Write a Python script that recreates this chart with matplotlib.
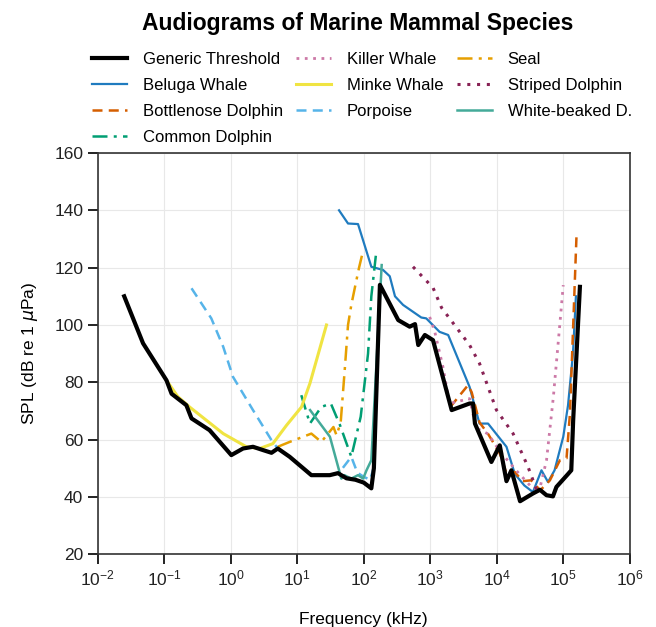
import numpy as np
import matplotlib.pyplot as plt
from matplotlib.ticker import LogLocator, NullLocator

plt.rcParams['font.family'] = ['Liberation Sans', 'DejaVu Sans']

# audiogram values (frequency, threshold in dB)
generic_f = [0.025, 0.048, 0.108, 0.129, 0.215, 0.257, 0.48, 1.02, 1.53, 2.16, 3.1, 4.1, 5.1, 7.7,
             16.3, 30.8, 41, 55, 75, 100, 130, 142, 175, 330, 490, 590, 660, 830, 1100, 2100,
             3900, 4400, 4700, 8300, 11100, 14000, 16600, 22400, 35000, 44600, 56000, 70000,
             79000, 118000, 132000, 141000, 178000]
generic_db = [110, 93.6, 80.7, 76, 72, 67.4, 63.3, 54.6, 56.9, 57.5, 56.3, 55.4, 56.9, 54,
              47.6, 47.6, 48.3, 46.5, 46, 45, 43, 50, 114, 101.7, 99.4, 100.3, 93, 96.5, 94.7, 70.3,
              72.6, 72.6, 65.6, 52.2, 58, 45.5, 49.3, 38.5, 41.2, 42.5, 40.6, 40.2,
              43.5, 48, 49.3, 66.8, 113.3]

beluga_f = [42.5, 58, 82, 130, 195, 246, 295, 390, 733, 870, 1380, 1860, 3900, 5500, 7400,
            14000, 18700, 26000, 35000, 47000, 59000, 74000, 100000, 118000, 140000, 155000]
beluga_db = [140, 135.4, 135.2, 120.3, 119.2, 117, 110, 107, 102.6, 102.3, 97.6, 96.5, 78.4, 65.6, 65.6,
             57.5, 48, 44, 41.7, 49.3, 45.2, 49.3, 61, 72, 90, 110]

bottlenose_f = [2000, 3700, 4200, 5500, 7400, 11100, 14000, 18600, 24500, 33000, 45000, 63000,
                89000, 112000, 126000, 158000]
bottlenose_db = [71.4, 79, 76.5, 66, 62, 55.2, 48.2, 48.7, 45.5, 45.8, 42.3, 45.8,
                 52.8, 53.5, 69, 130.8]

common_f = [11.5, 15.5, 23, 32, 44, 65, 90, 116, 130, 155]
common_db = [75.5, 65.6, 71.4, 72.6, 65, 54, 68, 90, 110, 126]

killer_f = [980, 1170, 1550, 1950, 3900, 4900, 7400, 11100, 19500, 35000, 45000, 56000,
            71000, 89000, 100000]
killer_db = [102.8, 97.6, 85.4, 72.6, 74.3, 64, 62, 56, 49.3, 42.9, 43.5, 52.8,
             74.9, 100.5, 113.9]

minke_f = [0.108, 0.16, 0.24, 0.77, 1.72, 2.73, 4.3, 6.9, 11.6, 15.5, 27.5]
minke_db = [80.7, 75, 71.4, 62.1, 57.5, 56.9, 58.6, 65, 71.4, 79.6, 100]

porpoise_f = [0.257, 0.51, 0.77, 1.08, 2.16, 4.1, 5.1, 7.7, 16.3, 30.8, 43.5, 65, 80, 100, 125, 140]
porpoise_db = [112.8, 102.3, 92.4, 81.9, 70.3, 59.8, 56.9, 54, 47.6, 47.6, 48.7, 54, 48.5, 47, 46, 50]

seal_f = [5.1, 7.7, 16.3, 23, 35, 39, 45, 52, 58, 65, 75, 85, 98]
seal_db = [57.5, 59.2, 62.1, 59.2, 64.4, 61.5, 66, 85, 100, 107, 114, 120, 126]

striped_f = [550, 1100, 1480, 3900, 5500, 9900, 17600, 29500, 40000]
striped_db = [120.3, 113, 106, 93, 86.6, 70.3, 62.1, 50.5, 42.3]

whitebeaked_f = [15.6, 31, 46, 51, 65, 82, 98, 110, 130, 186]
whitebeaked_db = [70.3, 61, 46.4, 47.6, 46.4, 47.6, 46.4, 49.3, 52.8, 120.9]

fig = plt.figure(figsize=(6.56, 6.27), dpi=100)
ax = fig.add_axes([0.149, 0.116, 0.811, 0.64])

ax.plot(generic_f, generic_db, color='black', lw=3.0, label='Generic Threshold', zorder=3)
ax.plot(beluga_f, beluga_db, color='#1f7bbf', lw=1.6, label='Beluga Whale')
ax.plot(bottlenose_f, bottlenose_db, color='#D55E00', lw=1.8, ls=(0, (4, 2.5)), label='Bottlenose Dolphin')
ax.plot(common_f, common_db, color='#009E73', lw=1.8, ls=(0, (6, 2.5, 1.2, 2.5)), label='Common Dolphin')
ax.plot(killer_f, killer_db, color='#CC79A7', lw=2.0, ls=(0, (1, 2)), label='Killer Whale')
ax.plot(minke_f, minke_db, color='#F0E442', lw=2.2, label='Minke Whale')
ax.plot(porpoise_f, porpoise_db, color='#56B4E9', lw=1.8, ls=(0, (4, 2.5)), label='Porpoise')
ax.plot(seal_f, seal_db, color='#E69F00', lw=1.8, ls=(0, (6, 2.5, 1.2, 2.5)), label='Seal')
ax.plot(striped_f, striped_db, color='#882255', lw=2.2, ls=(0, (1, 2.2)), label='Striped Dolphin')
ax.plot(whitebeaked_f, whitebeaked_db, color='#44AA99', lw=1.8, label='White-beaked D.')

ax.set_xscale('log')
ax.set_xlim(1e-2, 1e6)
ax.set_ylim(20, 160)
ax.xaxis.set_major_locator(LogLocator(base=10, numticks=12))
ax.xaxis.set_minor_locator(NullLocator())
ax.set_yticks(np.arange(20, 161, 20))
ax.grid(True, color='#e8e8e8', lw=0.8)
ax.set_axisbelow(True)
ax.tick_params(axis='both', direction='out', length=7, width=1.4, labelsize=12.5, colors='#222222')
for s in ax.spines.values():
    s.set_linewidth(1.2)
    s.set_color('#333333')

ax.set_xlabel('Frequency (kHz)', fontsize=12.5, labelpad=17)
ax.set_ylabel(r'SPL (dB re 1 $\mu$Pa)', fontsize=12.5, labelpad=10)

fig.text(0.545, 0.962, 'Audiograms of Marine Mammal Species', ha='center', va='center',
         fontsize=16.5, fontweight='bold')
fig.legend(loc='upper left', bbox_to_anchor=(0.1273, 0.931), ncol=3, frameon=False, borderpad=0,
           fontsize=12, handlelength=2.1, columnspacing=0.8, labelspacing=0.66, handletextpad=0.95)

fig.savefig('out.png', dpi=100)
